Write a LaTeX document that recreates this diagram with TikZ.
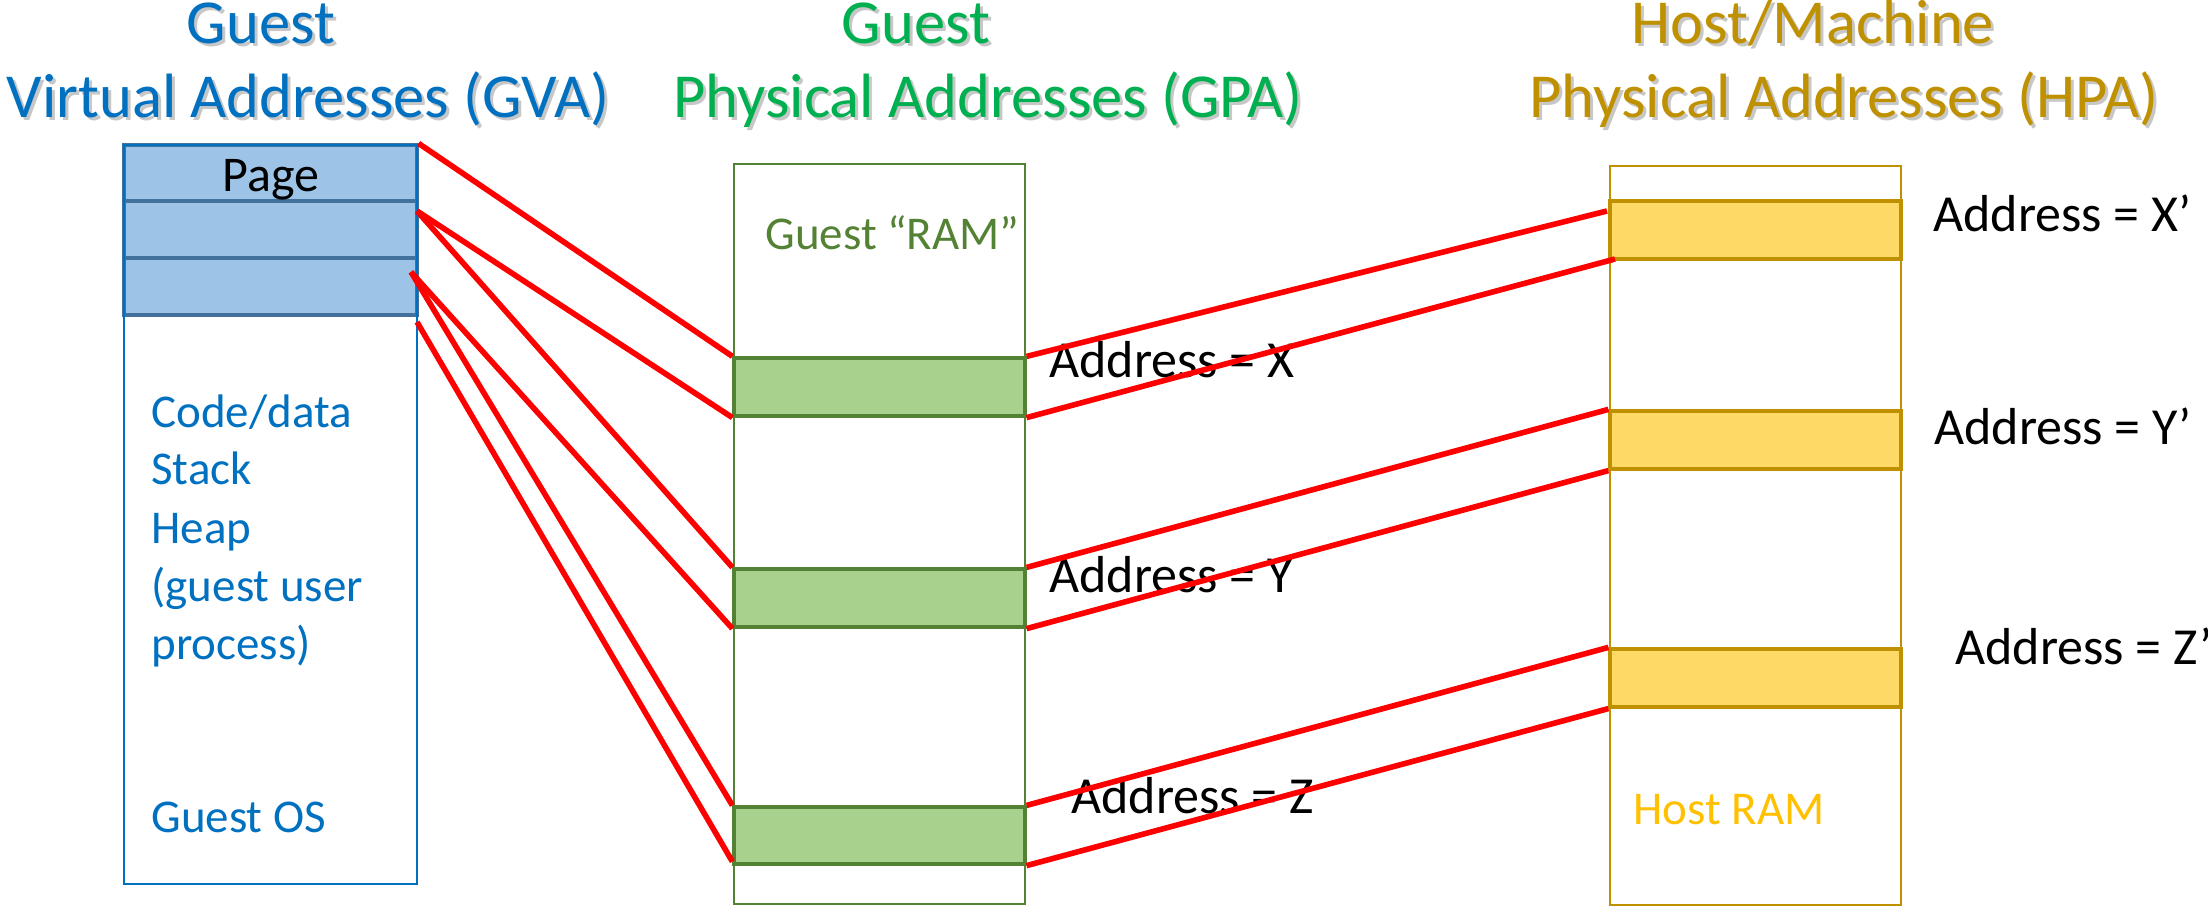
\documentclass[tikz,border=0pt]{standalone}
\usepackage{fontspec}
\setmainfont{Carlito}
\usetikzlibrary{fit}

\definecolor{gvablue}{HTML}{0070C0}
\definecolor{pagefill}{HTML}{9DC3E6}
\definecolor{pageedge}{HTML}{41719C}
\definecolor{gpatitle}{HTML}{00B050}
\definecolor{gpaedge}{HTML}{548235}
\definecolor{gpafill}{HTML}{A9D18E}
\definecolor{hpaedge}{HTML}{BF9000}
\definecolor{hpafill}{HTML}{FFD966}
\definecolor{hostram}{HTML}{FFC000}
\definecolor{mapred}{HTML}{FF0000}

\begin{document}
\begin{tikzpicture}[x=0.5pt,y=-0.5pt,
  ttl/.style={anchor=base, inner sep=0pt, font=\fontsize{31.3}{36}\selectfont},
  shd/.style={ttl, text=black!22},
  lbl/.style={anchor=base west, inner sep=0pt, font=\fontsize{26}{30}\selectfont},
  note/.style={anchor=base west, inner sep=0pt, font=\fontsize{23.5}{28}\selectfont},
  region/.style={inner sep=0pt},
  frame/.style={line width=1.1pt},
  slot/.style={line width=1.6pt},
  map/.style={draw=mapred, line width=2.8pt}]
\useasboundingbox (0,0) rectangle (2208,908);

% column headings (with a soft drop shadow)
\node[shd] (t1s) at (264,47) {Guest};
\node[ttl, text=gvablue] (t1) at (261,44) {Guest};
\node[shd] (t2s) at (311,121) {Virtual Addresses (GVA)};
\node[ttl, text=gvablue] (t2) at (308,118) {Virtual Addresses (GVA)};
\node[shd] (t3s) at (919,47) {Guest};
\node[ttl, text=gpatitle] (t3) at (916,44) {Guest};
\node[shd] (t4s) at (991,121) {Physical Addresses (GPA)};
\node[ttl, text=gpatitle] (t4) at (988,118) {Physical Addresses (GPA)};
\node[shd] (t5s) at (1816,47) {Host/Machine};
\node[ttl, text=hpaedge] (t5) at (1813,44) {Host/Machine};
\node[shd] (t6s) at (1847,121) {Physical Addresses (HPA)};
\node[ttl, text=hpaedge] (t6) at (1844,118) {Physical Addresses (HPA)};

% guest virtual address space
\node[region, fit={(124,145)(417,201)}, slot, fill=pagefill, draw=pageedge] (p1) {};
\node[region, fit={(124,201)(417,258)}, slot, fill=pagefill, draw=pageedge] (p2) {};
\node[region, fit={(124,258)(417,315)}, slot, fill=pagefill, draw=pageedge] (p3) {};
\node[region, fit={(124,145)(417,884)}, frame, draw=gvablue] (gva) {};
\node[anchor=base, inner sep=0pt, font=\fontsize{25}{30}\selectfont] (pg) at (271,192) {Page};
\node[note, text=gvablue] (v1) at (151,428) {Code/data};
\node[note, text=gvablue] (v2) at (151,485) {Stack};
\node[note, text=gvablue] (v3) at (151,544) {Heap};
\node[note, text=gvablue] (v4) at (151,602) {(guest user};
\node[note, text=gvablue] (v5) at (151,660) {process)};
\node[note, text=gvablue] (v6) at (151,833) {Guest OS};

% guest physical address space
\node[region, fit={(734,164)(1025,904)}, frame, draw=gpaedge] (gpa) {};
\node[region, fit={(734,358)(1025,416)}, slot, fill=gpafill, draw=gpaedge] (g1) {};
\node[region, fit={(734,569)(1025,627)}, slot, fill=gpafill, draw=gpaedge] (g2) {};
\node[region, fit={(734,807)(1025,864)}, slot, fill=gpafill, draw=gpaedge] (g3) {};
\node[note, text=gpaedge] (gram) at (765,250) {Guest “RAM”};

% host physical address space
\node[region, fit={(1610,166)(1901,905)}, frame, draw=hpaedge] (hpa) {};
\node[region, fit={(1610,201)(1901,259)}, slot, fill=hpafill, draw=hpaedge] (h1) {};
\node[region, fit={(1610,411)(1901,469)}, slot, fill=hpafill, draw=hpaedge] (h2) {};
\node[region, fit={(1610,649)(1901,707)}, slot, fill=hpafill, draw=hpaedge] (h3) {};
\node[note, text=hostram] (hram) at (1633,825) {Host RAM};

% address labels
\node[lbl] (ax) at (1049,378) {Address = X};
\node[lbl] (ay) at (1049,593) {Address = Y};
\node[lbl] (az) at (1071,813) {Address = Z};
\node[lbl] (axp) at (1933,232) {Address = X’};
\node[lbl] (ayp) at (1934,445) {Address = Y’};
\node[lbl] (azp) at (1955,665) {Address = Z’};

% mapping lines GVA -> GPA
\coordinate (s2) at (417,211);
\coordinate (s3) at (411,272);
\coordinate (s4) at (417,322);
\draw[map] (p1.north east) -- (g1.north west);
\draw[map] (s2) -- (g1.south west);
\draw[map] (s2) -- (g2.north west);
\draw[map] (s3) -- (g2.south west);
\draw[map] (s3) -- (g3.north west);
\draw[map] (s4) -- ([yshift=2pt]g3.south west);

% mapping lines GPA -> HPA
\coordinate (e1) at (1607,211);
\coordinate (e2) at (1615,259);
\draw[map] (g1.north east) -- (e1);
\draw[map] (g1.south east) -- (e2);
\draw[map] (g2.north east) -- (h2.north west);
\draw[map] (g2.south east) -- (h2.south west);
\draw[map] (g3.north east) -- (h3.north west);
\draw[map] (g3.south east) -- (h3.south west);
\end{tikzpicture}
\end{document}
